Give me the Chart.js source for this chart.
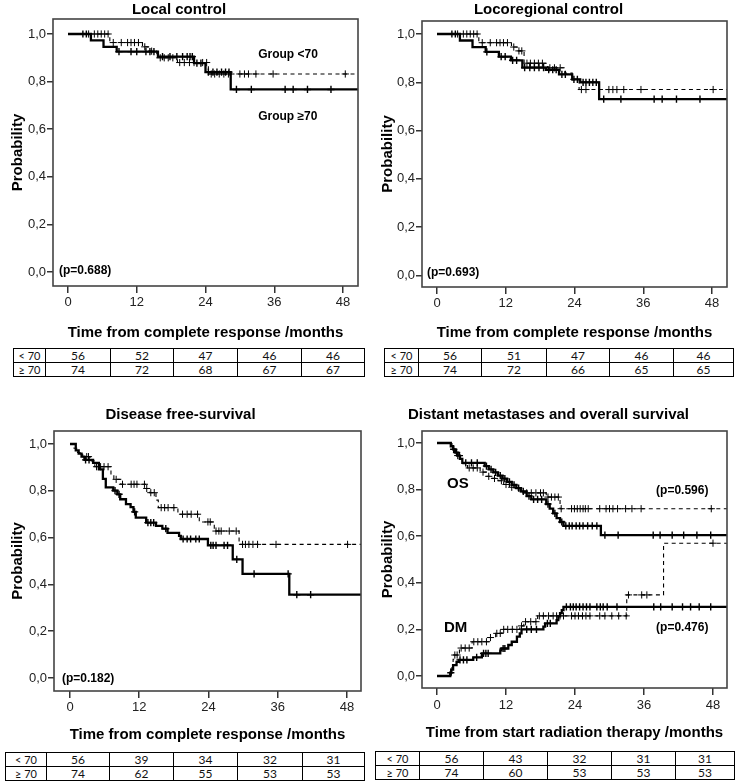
<!DOCTYPE html>
<html><head><meta charset="utf-8">
<script src="https://cdn.jsdelivr.net/npm/chart.js@4.4.1/dist/chart.umd.min.js"></script>
<style>
html,body{margin:0;padding:0;background:#fff}
body{width:740px;height:784px;position:relative;overflow:hidden}
canvas{position:absolute}
table.risk{position:absolute;border-collapse:collapse;table-layout:fixed;font-family:Lato,'Liberation Sans',sans-serif;font-size:12px;color:#111}
table.risk td{border:1px solid #000;text-align:center;padding:0;height:13px;line-height:13px;overflow:hidden;white-space:nowrap}
table.risk td:first-child{font-size:11px}
</style></head><body>
<canvas id="c1" width="370" height="345" style="left:0;top:0"></canvas>
<canvas id="c2" width="370" height="345" style="left:370px;top:0"></canvas>
<canvas id="c3" width="370" height="345" style="left:0;top:405px"></canvas>
<canvas id="c4" width="370" height="345" style="left:370px;top:405px"></canvas>
<div id="tables"></div>
<script>
// ---------- DATA ----------
const xTicks = [0, 12, 24, 36, 48];
const yTicks = [0, 0.2, 0.4, 0.6, 0.8, 1.0];
const riskGroups = ['< 70', '\u2265 70'];

// Local control
const lcT_lt70 = [0, 7.3, 13.0, 14.2, 15.5, 19.1, 24.5, 51];
const lcS_lt70 = [1.0, 0.964, 0.946, 0.928, 0.900, 0.880, 0.832, 0.832];
const lcC_lt70 = [3.6, 4.6, 5.2, 5.8, 6.4, 7.0, 7.9, 9.3, 10.4, 11.0, 11.6, 12.3, 13.4, 14.6, 16.1, 16.8, 17.5, 18.3, 19.5, 20.3, 21.2, 22.0, 23.5, 24.2, 25.0, 25.6, 26.4, 27.2, 28.0, 30.0, 30.8, 31.5, 32.8, 35.8, 48.4];
const lcT_ge70 = [0, 4.0, 6.2, 8.5, 15.7, 22.0, 24.0, 28.4, 51];
const lcS_ge70 = [1.0, 0.973, 0.946, 0.926, 0.905, 0.878, 0.840, 0.767, 0.767];
const lcC_ge70 = [2.6, 3.2, 8.9, 11.0, 12.0, 13.6, 14.3, 15.0, 16.5, 17.8, 19.0, 20.0, 20.8, 21.3, 21.7, 22.5, 23.2, 24.5, 25.3, 26.0, 26.8, 27.5, 28.1, 29.4, 32.0, 37.9, 39.3, 41.8, 45.9];
const lcRisk_lt70 = [56, 52, 47, 46, 46];
const lcRisk_ge70 = [74, 72, 68, 67, 67];

// Locoregional control
const lrT_lt70 = [0, 7.3, 13.0, 14.0, 15.2, 19.3, 22.3, 23.6, 24.8, 51];
const lrS_lt70 = [1.0, 0.964, 0.946, 0.930, 0.879, 0.860, 0.838, 0.810, 0.770, 0.770];
const lrC_lt70 = [3.6, 4.6, 5.2, 5.8, 6.4, 7.0, 7.9, 9.3, 10.4, 11.0, 11.6, 12.3, 13.4, 14.3, 14.8, 15.7, 16.3, 17.0, 17.7, 18.4, 19.7, 20.5, 21.5, 25.2, 26.0, 30.0, 30.7, 31.4, 32.6, 35.6, 48.2];
const lrT_ge70 = [0, 4.0, 6.2, 8.5, 10.8, 12.9, 14.9, 19.0, 21.3, 23.6, 25.0, 28.3, 51];
const lrS_ge70 = [1.0, 0.973, 0.946, 0.926, 0.906, 0.891, 0.861, 0.852, 0.833, 0.812, 0.800, 0.730, 0.730];
const lrC_ge70 = [2.6, 3.2, 8.7, 11.2, 11.9, 13.2, 13.9, 15.3, 16.2, 17.0, 17.8, 18.6, 19.5, 20.2, 20.8, 21.8, 22.4, 23.9, 24.5, 25.5, 26.0, 26.6, 27.2, 27.8, 29.1, 32.1, 37.9, 39.3, 41.8, 45.9];
const lrRisk_lt70 = [56, 51, 47, 46, 46];
const lrRisk_ge70 = [74, 72, 66, 65, 65];

// Disease free-survival
const dfsT_lt70 = [0, 0.7, 1.3, 2.2, 3.5, 4.3, 7.1, 7.6, 8.8, 13.1, 13.8, 14.9, 15.3, 18.7, 22.4, 25.0, 29.3, 51];
const dfsS_lt70 = [1.0, 0.982, 0.964, 0.946, 0.928, 0.903, 0.867, 0.849, 0.828, 0.810, 0.792, 0.760, 0.728, 0.700, 0.667, 0.628, 0.571, 0.571];
const dfsC_lt70 = [2.9, 3.2, 4.6, 5.3, 5.9, 6.6, 8.0, 9.1, 10.6, 11.1, 11.6, 12.9, 13.3, 14.0, 14.6, 15.8, 16.4, 17.0, 18.0, 19.5, 20.3, 21.0, 22.1, 23.9, 24.3, 25.3, 25.8, 26.2, 27.6, 28.8, 29.9, 30.4, 31.0, 31.7, 32.5, 35.7, 48.1];
const dfsT_ge70 = [0, 1.0, 1.5, 2.0, 2.5, 4.0, 5.0, 5.7, 6.2, 7.5, 8.2, 8.7, 9.7, 10.5, 11.0, 11.4, 13.2, 14.9, 16.0, 16.9, 18.9, 19.2, 23.9, 28.2, 29.9, 38.0, 51];
const dfsS_ge70 = [1.0, 0.973, 0.959, 0.946, 0.932, 0.919, 0.892, 0.851, 0.815, 0.801, 0.785, 0.764, 0.743, 0.730, 0.710, 0.685, 0.664, 0.650, 0.638, 0.620, 0.607, 0.594, 0.567, 0.507, 0.445, 0.356, 0.356];
const dfsC_ge70 = [2.7, 3.3, 7.8, 8.5, 11.2, 13.5, 14.0, 14.5, 16.6, 19.6, 20.3, 20.9, 21.8, 22.4, 24.4, 24.8, 25.3, 26.7, 27.3, 28.9, 31.9, 37.8, 39.3, 41.7];
const dfsRisk_lt70 = [56, 39, 34, 32, 31];
const dfsRisk_ge70 = [74, 62, 55, 53, 53];

// Overall survival
const osT_lt70 = [0, 2.6, 3.0, 3.4, 3.9, 4.5, 5.3, 7.5, 8.6, 9.6, 10.6, 11.6, 12.6, 13.6, 14.6, 19.0, 21.4, 51];
const osS_lt70 = [1.0, 0.982, 0.964, 0.946, 0.929, 0.911, 0.893, 0.875, 0.857, 0.848, 0.838, 0.822, 0.810, 0.798, 0.786, 0.768, 0.718, 0.718];
const osC_lt70 = [3.6, 5.6, 6.3, 7.0, 8.0, 9.0, 10.0, 11.2, 12.0, 13.0, 15.6, 16.4, 17.2, 18.0, 18.5, 19.3, 19.9, 20.5, 21.1, 21.6, 23.4, 23.9, 24.4, 24.9, 25.4, 25.8, 26.3, 28.3, 29.4, 30.0, 30.6, 31.4, 32.8, 33.9, 35.5, 47.7];
const osT_ge70 = [0, 2.4, 2.8, 3.2, 3.6, 4.0, 4.4, 8.3, 9.0, 9.8, 10.6, 11.4, 12.2, 13.0, 13.8, 14.6, 15.6, 16.4, 19.0, 19.6, 20.2, 20.8, 21.4, 22.0, 28.5, 51];
const osS_ge70 = [1.0, 0.986, 0.973, 0.959, 0.946, 0.932, 0.915, 0.901, 0.887, 0.874, 0.860, 0.847, 0.833, 0.820, 0.806, 0.792, 0.772, 0.758, 0.738, 0.718, 0.698, 0.678, 0.661, 0.644, 0.605, 0.605];
const osC_ge70 = [2.9, 3.4, 3.9, 5.0, 6.0, 7.0, 8.6, 9.4, 10.2, 11.0, 11.8, 12.6, 13.4, 14.2, 15.0, 16.0, 16.8, 17.5, 18.2, 19.3, 20.5, 21.7, 22.4, 23.0, 23.5, 24.2, 24.8, 25.4, 26.2, 27.0, 27.8, 29.2, 31.5, 37.6, 38.8, 40.9, 42.9, 45.2, 47.6];

// Distant metastases (cumulative incidence)
const dmT_lt70 = [0, 2.5, 2.6, 2.7, 2.8, 2.9, 3.9, 6.1, 9.0, 10.2, 11.3, 14.4, 15.1, 17.5, 33.0, 39.4, 51];
const dmS_lt70 = [0, 0.018, 0.036, 0.054, 0.072, 0.090, 0.120, 0.147, 0.165, 0.183, 0.200, 0.215, 0.233, 0.258, 0.348, 0.570, 0.570];
const dmC_lt70 = [3.1, 3.5, 4.2, 4.9, 5.6, 6.4, 7.1, 7.8, 8.6, 9.3, 10.4, 11.0, 11.6, 12.3, 13.1, 13.9, 14.7, 15.4, 16.3, 17.2, 17.8, 18.5, 19.4, 20.2, 20.8, 21.4, 22.0, 23.4, 24.0, 24.6, 25.3, 25.9, 26.6, 28.3, 29.2, 30.4, 31.6, 32.9, 33.3, 35.6, 36.5, 48.0];
const dmT_ge70 = [0, 2.3, 2.5, 2.8, 3.4, 3.8, 6.3, 7.8, 11.0, 11.2, 12.4, 13.0, 13.9, 14.4, 14.7, 18.5, 18.8, 20.8, 21.1, 21.4, 21.7, 22.0, 51];
const dmS_ge70 = [0, 0.014, 0.028, 0.047, 0.061, 0.069, 0.080, 0.097, 0.110, 0.118, 0.133, 0.147, 0.169, 0.183, 0.200, 0.212, 0.226, 0.240, 0.256, 0.270, 0.283, 0.297, 0.297];
const dmC_ge70 = [2.4, 4.0, 4.6, 5.2, 6.9, 8.1, 8.5, 8.9, 11.5, 11.8, 15.6, 16.4, 17.3, 19.2, 19.7, 22.5, 23.2, 23.7, 24.2, 24.8, 25.4, 26.0, 26.6, 27.8, 28.4, 28.9, 29.6, 31.3, 37.7, 38.9, 40.9, 42.7, 44.1, 45.6, 47.6];
const osRisk_lt70 = [56, 43, 32, 31, 31];
const osRisk_ge70 = [74, 60, 53, 53, 53];

// ---------- HELPERS ----------
const FONT = "'Liberation Sans', Arial, Helvetica, sans-serif";
function steps(ts, ss) { return ts.map((t, i) => ({x: t, y: ss[i]})); }
function onCurve(cs, ts, ss) {
  return cs.map(c => { let s = ss[0]; for (let i = 0; i < ts.length; i++) if (ts[i] <= c) s = ss[i]; return {x: c, y: s}; });
}
function lineDS(data, dashed) {
  return {type: 'line', data, stepped: true, borderColor: '#000', borderWidth: dashed ? 1.1 : 2.3,
    borderDash: dashed ? [4, 3.5] : [], pointRadius: 0, pointHoverRadius: 0, fill: false, tension: 0, order: 2};
}
function markDS(data, bold) {
  return {type: 'scatter', data, pointStyle: 'cross', pointRadius: 3.6, pointHoverRadius: 0,
    borderColor: '#000', backgroundColor: '#000', borderWidth: bold ? 1.4 : 1, order: 1};
}
const boxPlugin = {id: 'box', afterDatasetsDraw(chart) {
  const {left, top, right, bottom} = chart.chartArea; const ctx = chart.ctx;
  ctx.save(); ctx.strokeStyle = '#444'; ctx.lineWidth = 1.6; ctx.strokeRect(left, top, right - left, bottom - top); ctx.restore();
}};
function annotPlugin(items) {
  return {id: 'annot', afterDatasetsDraw(chart) {
    const ctx = chart.ctx, xs = chart.scales.x, ys = chart.scales.y;
    ctx.save(); ctx.fillStyle = '#000'; ctx.textBaseline = 'middle'; ctx.textAlign = 'left';
    items.forEach(a => { ctx.font = 'bold ' + a.size + 'px ' + FONT; ctx.fillText(a.text, xs.getPixelForValue(a.x), ys.getPixelForValue(a.y)); });
    ctx.restore();
  }};
}
function makePanel(id, p) {
  new Chart(document.getElementById(id), {
    type: 'line',
    data: {datasets: p.datasets},
    options: {
      responsive: false, animation: false, devicePixelRatio: 1, events: [],
      layout: {padding: {left: 0, right: p.padRight, top: 0, bottom: 0}},
      plugins: {
        legend: {display: false}, tooltip: {enabled: false},
        title: {display: true, text: p.title, color: '#000', font: {family: FONT, size: 15, weight: 'bold', lineHeight: 1},
          padding: {top: p.titleTop, bottom: p.titleBottom}}
      },
      scales: {
        x: {type: 'linear', min: p.xMin, max: p.xMax,
          afterBuildTicks: s => { s.ticks = xTicks.map(v => ({value: v})); },
          afterFit: s => { s.height = p.xH; },
          ticks: {font: {family: FONT, size: 13}, color: '#222', padding: p.xTickPad, maxRotation: 0, autoSkip: false},
          grid: {drawOnChartArea: false, drawTicks: true, tickLength: 7, color: '#333', lineWidth: 1.5},
          border: {display: false},
          title: {display: true, text: p.xTitle, color: '#000', font: {family: FONT, size: 15, weight: 'bold', lineHeight: 1},
            padding: {top: 0, bottom: p.xTitlePad}}
        },
        y: {type: 'linear', min: p.yMin, max: p.yMax,
          afterBuildTicks: s => { s.ticks = yTicks.map(v => ({value: v})); },
          afterFit: s => { s.width = p.yW; },
          ticks: {font: {family: FONT, size: 13}, color: '#222', padding: 1, callback: v => Number(v).toFixed(1).replace('.', ',')},
          grid: {drawOnChartArea: false, drawTicks: true, tickLength: 6, color: '#333', lineWidth: 1.5},
          border: {display: false},
          title: {display: true, text: 'Probability', color: '#000', font: {family: FONT, size: 15, weight: 'bold', lineHeight: 1},
            padding: {top: 10.5, bottom: 0}}
        }
      }
    },
    plugins: [boxPlugin, annotPlugin(p.annot)]
  });
}

// ---------- PANELS ----------
makePanel('c1', {
  title: 'Local control', xTitle: 'Time from complete response /months',
  titleTop: 2.5, titleBottom: 1.5, xH: 59, xTitlePad: 4.5, xTickPad: 1.2, yW: 53, padRight: 12,
  xMin: -2.618, xMax: 50.618, yMin: -0.0588, yMax: 1.063,
  datasets: [lineDS(steps(lcT_lt70, lcS_lt70), true), lineDS(steps(lcT_ge70, lcS_ge70), false),
    markDS(onCurve(lcC_lt70, lcT_lt70, lcS_lt70), false), markDS(onCurve(lcC_ge70, lcT_ge70, lcS_ge70), true)],
  annot: [{text: 'Group <70', x: 33.2, y: 0.912, size: 12}, {text: 'Group \u226570', x: 33.2, y: 0.651, size: 12},
    {text: '(p=0.688)', x: -1.57, y: 0.004, size: 12}]
});
makePanel('c2', {
  title: 'Locoregional control', xTitle: 'Time from complete response /months',
  titleTop: 2.5, titleBottom: 3.5, xH: 58, xTitlePad: 4.5, xTickPad: 1.5, yW: 52, padRight: 13,
  xMin: -2.618, xMax: 50.618, yMin: -0.0476, yMax: 1.0538,
  datasets: [lineDS(steps(lrT_lt70, lrS_lt70), true), lineDS(steps(lrT_ge70, lrS_ge70), false),
    markDS(onCurve(lrC_lt70, lrT_lt70, lrS_lt70), false), markDS(onCurve(lrC_ge70, lrT_ge70, lrS_ge70), true)],
  annot: [{text: '(p=0.693)', x: -1.75, y: 0.01, size: 12}]
});
makePanel('c3', {
  title: 'Disease free-survival', xTitle: 'Time from complete response /months',
  titleTop: 2.5, titleBottom: 8.5, xH: 59, xTitlePad: 7.5, xTickPad: 1.9, yW: 54, padRight: 9,
  xMin: -2.772, xMax: 50.426, yMin: -0.0556, yMax: 1.0556,
  datasets: [lineDS(steps(dfsT_lt70, dfsS_lt70), true), lineDS(steps(dfsT_ge70, dfsS_ge70), false),
    markDS(onCurve(dfsC_lt70, dfsT_lt70, dfsS_lt70), false), markDS(onCurve(dfsC_ge70, dfsT_ge70, dfsS_ge70), true)],
  annot: [{text: '(p=0.182)', x: -1.39, y: -0.004, size: 12}]
});
makePanel('c4', {
  title: 'Distant metastases and overall survival', xTitle: 'Time from start radiation therapy /months',
  titleTop: 2.5, titleBottom: 8.5, xH: 62, xTitlePad: 9.5, xTickPad: 2.2, yW: 52, padRight: 13,
  xMin: -2.609, xMax: 50.435, yMin: -0.0515, yMax: 1.0515,
  datasets: [lineDS(steps(osT_lt70, osS_lt70), true), lineDS(steps(osT_ge70, osS_ge70), false),
    lineDS(steps(dmT_lt70, dmS_lt70), true), lineDS(steps(dmT_ge70, dmS_ge70), false),
    markDS(onCurve(osC_lt70, osT_lt70, osS_lt70), false), markDS(onCurve(osC_ge70, osT_ge70, osS_ge70), true),
    markDS(onCurve(dmC_lt70, dmT_lt70, dmS_lt70), false), markDS(onCurve(dmC_ge70, dmT_ge70, dmS_ge70), true)],
  annot: [{text: 'OS', x: 1.74, y: 0.824, size: 15}, {text: '(p=0.596)', x: 38.1, y: 0.794, size: 12},
    {text: 'DM', x: 1.22, y: 0.206, size: 15}, {text: '(p=0.476)', x: 38.1, y: 0.206, size: 12}]
});

// ---------- RISK TABLES ----------
function riskTable(left, top, widths, rowA, rowB) {
  const t = document.createElement('table'); t.className = 'risk';
  t.style.left = left + 'px'; t.style.top = top + 'px';
  t.style.width = widths.reduce((a, b) => a + b, 0) + 'px';
  const cg = document.createElement('colgroup');
  widths.forEach(w => { const c = document.createElement('col'); c.style.width = w + 'px'; cg.appendChild(c); });
  t.appendChild(cg);
  [[riskGroups[0]].concat(rowA), [riskGroups[1]].concat(rowB)].forEach(r => {
    const tr = document.createElement('tr');
    r.forEach(v => { const td = document.createElement('td'); td.textContent = v; tr.appendChild(td); });
    t.appendChild(tr);
  });
  document.getElementById('tables').appendChild(t);
}
riskTable(13, 348, [32, 65, 63, 64, 64, 63], lcRisk_lt70, lcRisk_ge70);
riskTable(384, 348, [34, 63, 65, 63, 64, 60], lrRisk_lt70, lrRisk_ge70);
riskTable(5, 752, [41, 63, 64, 64, 65, 62], dfsRisk_lt70, dfsRisk_ge70);
riskTable(375, 751, [44, 64, 64, 64, 64, 59], osRisk_lt70, osRisk_ge70);
</script>
</body></html>
